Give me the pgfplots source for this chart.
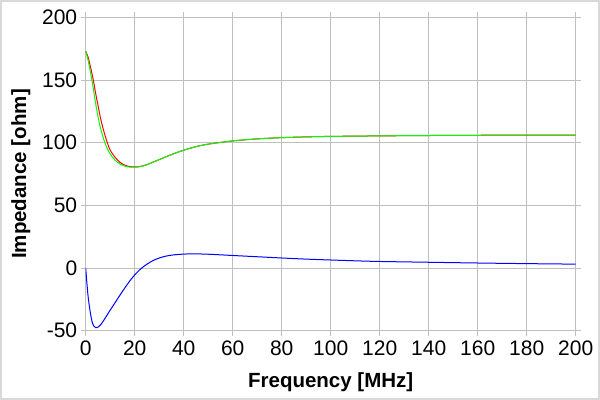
\documentclass[border=0pt]{standalone}
\usepackage{pgfplots}
\pgfplotsset{compat=1.18}
\usepackage{fontspec}
\setmainfont{Liberation Sans}
\begin{document}
\begin{tikzpicture}
\useasboundingbox (0,0) rectangle (600bp,400bp);
\fill[white] (0,0) rectangle (600bp,400bp);
\draw[line width=2bp, color=black!15] (1bp,1bp) rectangle (599bp,399bp);
\begin{axis}[
  at={(85.7bp,69.3bp)}, anchor=south west,
  scale only axis, width=490bp, height=313.4bp,
  xmin=0, xmax=200, ymin=-50, ymax=200,
  xtick={0,20,...,200}, ytick={-50,0,50,100,150,200},
  axis line style={draw=none},
  grid=major, grid style={color=black!25, line width=0.8bp},
  tick style={color=black!25, line width=0.8bp},
  tick align=outside, major tick length=5bp,
  /pgf/number format/assume math mode=true,
  ticklabel style={font=\fontsize{21bp}{24bp}\selectfont},
  xticklabel style={yshift=-2bp},
  yticklabel style={xshift=0bp},
  xlabel={\bfseries Frequency [MHz]},
  ylabel={\bfseries Impedance [ohm]},
  label style={font=\fontsize{20.5bp}{24bp}\selectfont},
  xlabel style={yshift=-10bp},
  ylabel style={yshift=5bp},
]
\addplot[color=red, line width=1bp, smooth, tension=0.5] coordinates {
(0,173) (1,168) (2,160) (3,151) (4,140) (5,130) (6,120) (7,112) (8,105) (9,99)
(10,94) (12,88.3) (14,84.3) (16,82) (18,80.9) (20,80.6) (22,80.9) (25,82.5)
(30,86.5) (35,90.5) (40,94) (45,96.8) (50,98.8) (60,101.4) (70,103) (80,104)
(90,104.6) (100,105) (120,105.4) (140,105.7) (160,105.9) (180,106) (200,106)
};
\addplot[color=green, line width=1bp, smooth, tension=0.5] coordinates {
(0,173) (1,165.5) (2,155.5) (3,144.5) (4,132) (5,121) (6,112) (7,105) (8,99) (9,94.5)
(10,91) (11,88.3) (12,86) (14,83) (16,81.3) (18,80.5) (20,80.4) (22,80.8) (25,82.4)
(30,86.5) (35,90.5) (40,94) (45,96.8) (50,98.8) (60,101.4) (70,103) (80,104)
(90,104.6) (100,105) (120,105.4) (140,105.7) (160,105.9) (180,106) (200,106)
};
\addplot[color=blue, line width=1bp, smooth, tension=0.5] coordinates {
(0,0) (0.4,-10) (1,-23) (1.76,-34) (2.5,-42) (3.2,-46) (4.1,-47.6) (5,-47.2)
(6,-45.5) (7,-42.8) (8,-39.8) (9,-36.7) (10,-33.6) (11,-30.6) (12,-27.6)
(13,-24.6) (14,-21.6) (15,-18.7) (16,-15.8) (17,-13) (18,-10.3) (19,-7.8)
(20,-5.5) (22,-1.5) (24,1.7) (26,4.3) (28,6.4) (30,8.0) (33,9.6) (36,10.5)
(40,11.1) (44,11.3) (50,11) (60,10) (70,9) (80,8) (90,7.1) (100,6.4)
(116,5.4) (130,4.9) (160,4.0) (180,3.5) (200,3.1)
};
\end{axis}
\end{tikzpicture}
\end{document}
